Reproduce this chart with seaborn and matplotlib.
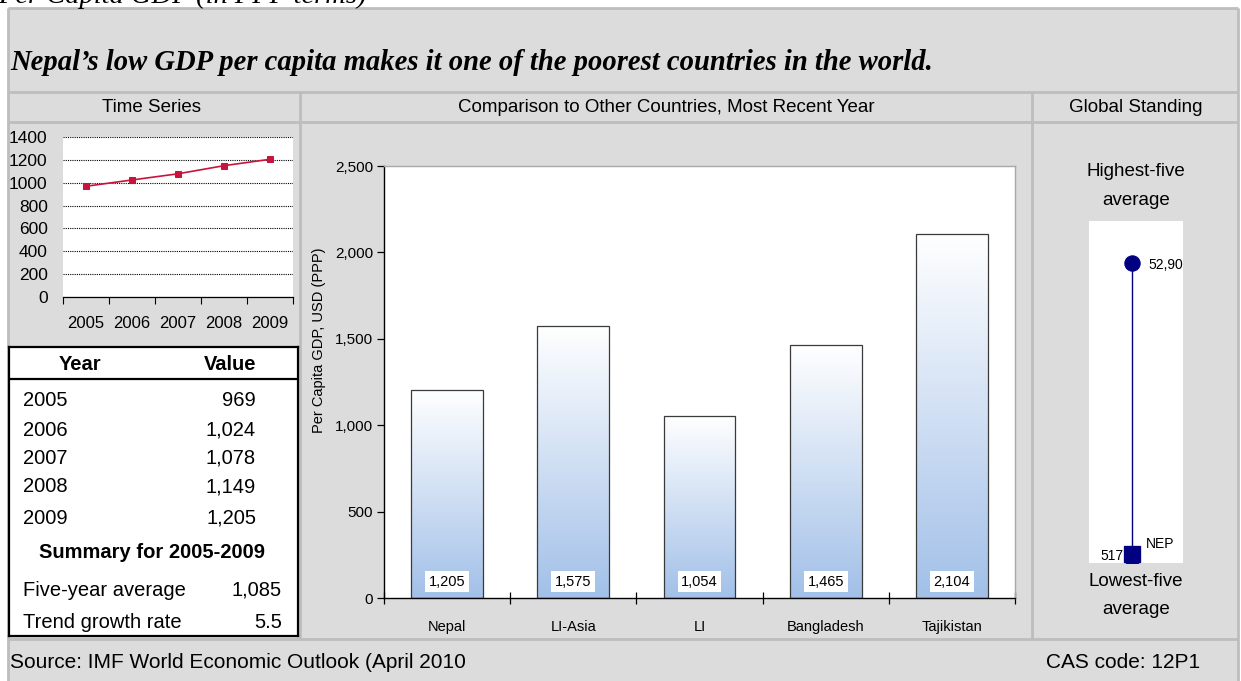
import numpy as np
import matplotlib
matplotlib.use("Agg")
import matplotlib.pyplot as plt
from matplotlib.colors import LinearSegmentedColormap
from matplotlib.patches import Rectangle
import seaborn as sns

# ---- data ----
years = ["2005", "2006", "2007", "2008", "2009"]
gdp_values = [969, 1024, 1078, 1149, 1205]
five_year_average = 1085
trend_growth_rate = 5.5

countries = ["Nepal", "LI-Asia", "LI", "Bangladesh", "Tajikistan"]
country_values = [1205, 1575, 1054, 1465, 2104]

highest_five_avg = 52904
lowest_five_avg = 517
nepal_value = 1205

ts_yticks = [0, 200, 400, 600, 800, 1000, 1200, 1400]
bar_yticks = [0, 500, 1000, 1500, 2000, 2500]

sns.set_theme(style="white")
plt.rcParams["font.family"] = ["Liberation Sans", "DejaVu Sans"]
plt.rcParams["text.color"] = "black"
plt.rcParams["axes.labelcolor"] = "black"
plt.rcParams["xtick.color"] = "black"
plt.rcParams["ytick.color"] = "black"

W, H = 1241, 681
fig = plt.figure(figsize=(W / 100, H / 100), dpi=100, facecolor="white")

PANEL = "#DCDCDC"
RULE = "#BDBDBD"


def px_axes(x0, y0, x1, y1, **kw):
    return fig.add_axes([x0 / W, 1 - y1 / H, (x1 - x0) / W, (y1 - y0) / H], **kw)


def ftext(x, y, s, **kw):
    return fig.text(x / W, 1 - y / H, s, **kw)


# ---- background frame ----
bg = px_axes(0, 0, W, H)
bg.set_xlim(0, W)
bg.set_ylim(H, 0)
bg.axis("off")
bg.add_patch(Rectangle((8, 8), 1230, 700, facecolor=PANEL, edgecolor="none"))
lw = 2.0
for (xa, ya, xb, yb) in [
    (8, 8, 1238, 8), (8, 92, 1238, 92), (8, 122, 1238, 122), (8, 639, 1238, 639),
    (8, 8, 8, 681), (1238, 8, 1238, 681), (300, 92, 300, 639), (1032, 92, 1032, 639),
]:
    bg.plot([xa, xb], [ya, yb], color=RULE, lw=lw, solid_capstyle="butt")

# heading partly outside the canvas
ftext(-2, 3, "Per Capita GDP (in PPP terms)", fontsize=20.5, style="italic",
      family="Liberation Serif", va="baseline", ha="left")

ftext(10, 62, "Nepal\u2019s low GDP per capita makes it one of the poorest countries in the world.",
      fontsize=20.6, style="italic", weight="bold", family="Liberation Serif",
      va="center", ha="left")

ftext(152, 107, "Time Series", fontsize=13.5, ha="center", va="center")
ftext(666, 107, "Comparison to Other Countries, Most Recent Year", fontsize=13.5, ha="center", va="center")
ftext(1136, 107, "Global Standing", fontsize=13.5, ha="center", va="center")

ftext(10, 662, "Source: IMF World Economic Outlook (April 2010", fontsize=15, ha="left", va="center")
ftext(1200, 662, "CAS code: 12P1", fontsize=15, ha="right", va="center")

# ---- time series ----
ax1 = px_axes(63, 137, 293, 297)
ax1.set_facecolor("white")
xs = np.arange(len(years))
sns.lineplot(x=xs, y=gdp_values, ax=ax1, color="#C8143C", lw=1.2, marker="s",
             markersize=5, markeredgecolor="#C8143C")
ax1.set_xlim(-0.5, len(years) - 0.5)
ax1.set_ylim(0, 1400)
ax1.set_yticks(ts_yticks)
ax1.set_yticklabels([str(v) for v in ts_yticks], fontsize=12.5)
ax1.yaxis.grid(True, color="black", lw=0.8, ls=(0, (1, 1)))
ax1.set_axisbelow(True)
ax1.set_xticks(np.arange(-0.5, len(years), 1.0))
ax1.set_xticklabels([])
ax1.set_xticks(xs, minor=True)
ax1.set_xticklabels(years, minor=True, fontsize=12)
ax1.tick_params(axis="x", which="major", direction="out", length=5, width=0.8, color="black", bottom=True)
ax1.tick_params(axis="x", which="minor", length=0, pad=14)
ax1.tick_params(axis="y", length=0, pad=11)
for s in ["top", "right", "left"]:
    ax1.spines[s].set_visible(False)
ax1.spines["bottom"].set_color("black")
ax1.spines["bottom"].set_linewidth(0.9)

# ---- table ----
tb = px_axes(9, 347, 298, 636)
tb.set_xlim(9, 298)
tb.set_ylim(636, 347)
tb.set_facecolor("white")
tb.set_xticks([])
tb.set_yticks([])
for s in tb.spines.values():
    s.set_color("black")
    s.set_linewidth(1.6)
tb.plot([9, 298], [379, 379], color="black", lw=1.6)
fs_tb = 14.5
tb.text(80, 365, "Year", fontsize=fs_tb, weight="bold", ha="center", va="center")
tb.text(230, 365, "Value", fontsize=fs_tb, weight="bold", ha="center", va="center")
row_y = [400, 430, 458, 487, 518]
for yr, val, ry in zip(years, gdp_values, row_y):
    tb.text(23, ry, yr, fontsize=fs_tb, ha="left", va="center")
    tb.text(256, ry, f"{val:,}", fontsize=fs_tb, ha="right", va="center")
tb.text(152, 552, "Summary for 2005-2009", fontsize=fs_tb, weight="bold", ha="center", va="center")
tb.text(23, 590, "Five-year average", fontsize=fs_tb, ha="left", va="center")
tb.text(282, 590, f"{five_year_average:,}", fontsize=fs_tb, ha="right", va="center")
tb.text(23, 623, "Trend growth rate", fontsize=fs_tb, ha="left", va="center")
tb.text(282, 623, f"{trend_growth_rate}", fontsize=fs_tb, ha="right", va="center")

# ---- comparison bars ----
ax2 = px_axes(384, 166, 1015, 598)
ax2.set_facecolor("white")
sns.barplot(x=countries, y=country_values, ax=ax2, width=0.57, color="white",
            edgecolor="#3A3A3A", linewidth=0.9)
cmap = LinearSegmentedColormap.from_list("barfade", ["#FFFFFF", "#A2C0E8"])
grad = np.linspace(1, 0, 256).reshape(-1, 1)
for p, v in zip(ax2.patches, country_values):
    x0, w = p.get_x(), p.get_width()
    ax2.imshow(grad, extent=[x0, x0 + w, 0, v], aspect="auto", cmap=cmap,
               origin="lower", zorder=1.5, interpolation="bilinear")
    p.set_facecolor("none")
    p.set_zorder(2)
    ax2.text(x0 + w / 2, 95, f"{v:,}", fontsize=10.5, ha="center", va="center", zorder=3,
             bbox=dict(boxstyle="square,pad=0.25", facecolor="white", edgecolor="none"))
ax2.set_xlim(-0.5, len(countries) - 0.5)
ax2.set_ylim(0, 2500)
ax2.set_yticks(bar_yticks)
ax2.set_yticklabels([f"{v:,}" for v in bar_yticks], fontsize=11)
ax2.set_xticks(np.arange(-0.5, len(countries), 1.0))
ax2.set_xticklabels([])
ax2.set_xticks(np.arange(len(countries)), minor=True)
ax2.set_xticklabels(countries, minor=True, fontsize=10.5)
ax2.tick_params(axis="x", which="major", direction="inout", length=8, width=0.9, color="black", bottom=True)
ax2.tick_params(axis="x", which="minor", length=0, pad=16)
ax2.tick_params(axis="y", direction="out", length=5, width=0.9, color="black", left=True, pad=3)
ax2.set_xlabel("")
ax2.set_ylabel("")
ax2.grid(False)
for s in ["left", "bottom"]:
    ax2.spines[s].set_color("black")
    ax2.spines[s].set_linewidth(1.0)
for s in ["top", "right"]:
    ax2.spines[s].set_color("#A8A8A8")
    ax2.spines[s].set_linewidth(1.0)
ftext(319, 340, "Per Capita GDP, USD (PPP)", fontsize=10.5, rotation=90, ha="center", va="center")

# ---- global standing ----
ax3 = px_axes(1089, 221, 1183, 563)
ax3.set_facecolor("white")
ax3.set_xlim(0, 1)
ax3.set_ylim(-380, 60400)
xm = 0.46
ax3.plot([xm, xm], [lowest_five_avg, highest_five_avg], color="#000080", lw=1.0, zorder=1)
sns.scatterplot(x=[xm, xm], y=[highest_five_avg, lowest_five_avg], ax=ax3, marker="o",
                s=120, color="#000080", edgecolor="#000080", zorder=2)
sns.scatterplot(x=[xm], y=[nepal_value], ax=ax3, marker="s", s=140, color="#000080",
                edgecolor="#000080", zorder=3)
ax3.text(0.63, highest_five_avg - 300, f"{highest_five_avg:,}", fontsize=10, ha="left",
         va="center", clip_on=True)
ax3.text(0.37, lowest_five_avg + 300, f"{lowest_five_avg:,}", fontsize=10, ha="right", va="center")
ax3.text(0.6, nepal_value + 1800, "NEP", fontsize=10, ha="left", va="center")
ax3.set_xticks([])
ax3.set_yticks([])
for s in ax3.spines.values():
    s.set_visible(False)

ftext(1136, 172, "Highest-five", fontsize=13.5, ha="center", va="center")
ftext(1136, 200, "average", fontsize=13.5, ha="center", va="center")
ftext(1136, 582, "Lowest-five", fontsize=13.5, ha="center", va="center")
ftext(1136, 610, "average", fontsize=13.5, ha="center", va="center")

fig.savefig("out.png", dpi=100, facecolor="white")
